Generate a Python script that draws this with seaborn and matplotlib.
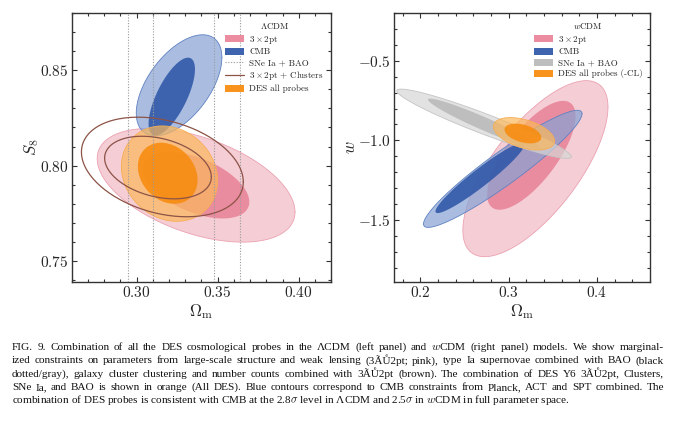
import numpy as np
import pandas as pd
import matplotlib
matplotlib.use("Agg")
import matplotlib.pyplot as plt
from matplotlib.patches import Patch
from matplotlib.lines import Line2D
from matplotlib.ticker import MultipleLocator
import seaborn as sns

# LCDM panel: each contour (95% / 68%) as centre, half-extent and correlation
lcdm_probe = ["3x2pt", "3x2pt", "CMB", "CMB", "Clusters", "Clusters", "DES", "DES"]
lcdm_level = [95, 68, 95, 68, 95, 68, 95, 68]
lcdm_om = [0.3367, 0.3367, 0.3262, 0.3217, 0.3159, 0.3132, 0.3203, 0.3192]
lcdm_s8 = [0.7897, 0.7897, 0.8421, 0.8362, 0.7993, 0.7990, 0.7958, 0.7960]
lcdm_om_err = [0.0610, 0.0328, 0.0264, 0.0143, 0.0499, 0.0329, 0.0297, 0.0184]
lcdm_s8_err = [0.0298, 0.0174, 0.0265, 0.0204, 0.0261, 0.0164, 0.0250, 0.0160]
lcdm_corr = [-0.47, -0.50, 0.55, 0.70, -0.30, -0.30, -0.15, -0.22]
sne_om_bounds = [0.295, 0.310, 0.348, 0.364]

# wCDM panel
wcdm_probe = ["3x2pt", "3x2pt", "CMB", "CMB", "SNe", "SNe", "DES", "DES"]
wcdm_level = [95, 68, 95, 68, 95, 68, 95, 68]
wcdm_om = [0.3302, 0.3256, 0.2932, 0.2675, 0.2720, 0.2720, 0.3173, 0.3160]
wcdm_w = [-1.178, -1.094, -1.179, -1.236, -0.896, -0.896, -0.959, -0.957]
wcdm_om_err = [0.0822, 0.0501, 0.0898, 0.0505, 0.0989, 0.0635, 0.0346, 0.0208]
wcdm_w_err = [0.553, 0.342, 0.368, 0.221, 0.218, 0.158, 0.102, 0.062]
wcdm_corr = [0.70, 0.72, 0.94, 0.95, -0.95, -0.96, -0.45, -0.40]

lcdm_labels = [r"$3\times2$pt", "CMB", "SNe Ia + BAO", r"$3\times2$pt + Clusters", "DES all probes"]
wcdm_labels = [r"$3\times2$pt", "CMB", "SNe Ia + BAO", "DES all probes (-CL)"]

caption_lines = [
    "FIG. 9.  Combination of all the DES cosmological probes in the \u039bCDM (left panel) and $w$CDM (right panel) models.  We show marginal-",
    "ized constraints on parameters from large-scale structure and weak lensing (3\u00c3\u016e2pt; pink), type Ia supernovae combined with BAO (black",
    "dotted/gray), galaxy cluster clustering and number counts combined with 3\u00c3\u016e2pt (brown).  The combination of DES Y6 3\u00c3\u016e2pt, Clusters,",
    "SNe Ia, and BAO is shown in orange (All DES). Blue contours correspond to CMB constraints from Planck, ACT and SPT combined.  The",
    "combination of DES probes is consistent with CMB at the 2.8$\\sigma$ level in \u039bCDM and 2.5$\\sigma$ in $w$CDM in full parameter space.",
]

# colours: (95% fill, 68% fill, edge, legend)
colors = {
    "3x2pt": ("#F2B8C4", "#E98196", "#EBA2B2", "#EB8CA0"),
    "CMB": ("#86A2D4", "#2B54A6", "#5F82C2", "#3E64AF"),
    "SNe": ("#D6D6D6", "#B8B8B8", "#C4C4C4", "#BEBEBE"),
    "DES": ("#FBB85B", "#F78A0B", "#F5AE55", "#F8941E"),
}
brown = "#8C5346"

sns.set_style("ticks")
plt.rcParams["font.family"] = "serif"
plt.rcParams["font.serif"] = ["cmr10"]
plt.rcParams["mathtext.fontset"] = "cm"
plt.rcParams["axes.formatter.use_mathtext"] = True


def contour_xy(cx, cy, sx, sy, rho, n=240):
    t = np.linspace(0, 2 * np.pi, n)
    x = cx + sx * np.cos(t)
    y = cy + sy * (rho * np.cos(t) + np.sqrt(1 - rho ** 2) * np.sin(t))
    return x, y


def draw_probe(ax, df, probe):
    sub = df[df["probe"] == probe]
    for _, r in sub.iterrows():
        x, y = contour_xy(r["x"], r["y"], r["sx"], r["sy"], r["rho"])
        if probe == "Clusters":
            sns.lineplot(x=x, y=y, sort=False, estimator=None, color=brown,
                         lw=0.9, ax=ax, legend=False, zorder=3)
            continue
        outer, inner, edge, _ = colors[probe]
        if r["level"] == 95:
            ax.fill(x, y, color=outer, alpha=0.7, lw=0, zorder=2)
            ax.plot(x, y, color=edge, lw=0.6, zorder=2)
        else:
            ax.fill(x, y, color=inner, alpha=0.85, lw=0, zorder=2)


def style_axes(ax, xminor, yminor):
    for s in ax.spines.values():
        s.set_linewidth(1.0)
        s.set_color("#333333")
    ax.xaxis.set_minor_locator(MultipleLocator(xminor))
    ax.yaxis.set_minor_locator(MultipleLocator(yminor))
    ax.tick_params(which="both", direction="in", top=True, right=True,
                   color="#333333", width=0.8, labelsize=11, pad=2.5)
    ax.tick_params(which="major", length=3.5)
    ax.tick_params(which="minor", length=2)


lcdm = pd.DataFrame({"probe": lcdm_probe, "level": lcdm_level, "x": lcdm_om, "y": lcdm_s8,
                     "sx": lcdm_om_err, "sy": lcdm_s8_err, "rho": lcdm_corr})
wcdm = pd.DataFrame({"probe": wcdm_probe, "level": wcdm_level, "x": wcdm_om, "y": wcdm_w,
                     "sx": wcdm_om_err, "sy": wcdm_w_err, "rho": wcdm_corr})

fig = plt.figure(figsize=(6.8, 4.24), dpi=100)
ax1 = fig.add_axes([71.7 / 680, 1 - 282 / 424, 259.5 / 680, 269 / 424])
ax2 = fig.add_axes([394 / 680, 1 - 282 / 424, 256 / 680, 269 / 424])

legend_kw = dict(loc="upper right", bbox_to_anchor=(0.989, 0.986), frameon=False,
                 fontsize=6.5, title_fontsize=6.5, handlelength=2.1,
                 handleheight=0.8, handletextpad=0.6, labelspacing=0.25,
                 borderpad=0)

# left panel
draw_probe(ax1, lcdm, "3x2pt")
draw_probe(ax1, lcdm, "CMB")
for b in sne_om_bounds:
    ax1.axvline(b, color="#9A9A9A", ls=(0, (1, 1.5)), lw=0.8, zorder=3)
draw_probe(ax1, lcdm, "Clusters")
draw_probe(ax1, lcdm, "DES")

ax1.set_xlim(0.26, 0.42)
ax1.set_ylim(0.739, 0.88)
ax1.xaxis.set_major_locator(MultipleLocator(0.05))
ax1.yaxis.set_major_locator(MultipleLocator(0.05))
style_axes(ax1, 0.01, 0.01)
ax1.set_xlabel(r"$\Omega_{\rm m}$", fontsize=12, labelpad=1)
ax1.set_ylabel(r"$S_8$", fontsize=12, labelpad=-1)

h1 = [Patch(facecolor=colors["3x2pt"][3], lw=0),
      Patch(facecolor=colors["CMB"][3], lw=0),
      Line2D([], [], color="#9A9A9A", ls=(0, (1, 1.5)), lw=0.8),
      Line2D([], [], color=brown, lw=0.9),
      Patch(facecolor=colors["DES"][3], lw=0)]
ax1.legend(h1, lcdm_labels, title=r"$\Lambda$CDM", **legend_kw)

# right panel
draw_probe(ax2, wcdm, "3x2pt")
draw_probe(ax2, wcdm, "CMB")
draw_probe(ax2, wcdm, "SNe")
draw_probe(ax2, wcdm, "DES")

ax2.set_xlim(0.17, 0.46)
ax2.set_ylim(-1.89, -0.2)
ax2.xaxis.set_major_locator(MultipleLocator(0.1))
ax2.yaxis.set_major_locator(MultipleLocator(0.5))
style_axes(ax2, 0.02, 0.1)
ax2.set_xlabel(r"$\Omega_{\rm m}$", fontsize=12, labelpad=1)
ax2.set_ylabel(r"$w$", fontsize=12, labelpad=0)

h2 = [Patch(facecolor=colors["3x2pt"][3], lw=0),
      Patch(facecolor=colors["CMB"][3], lw=0),
      Patch(facecolor=colors["SNe"][3], lw=0),
      Patch(facecolor=colors["DES"][3], lw=0)]
ax2.legend(h2, wcdm_labels, title=r"$w$CDM", **legend_kw)

# caption, justified word by word
cap_font = dict(family=["Liberation Serif", "DejaVu Serif"], fontsize=8.1, color="#111111")
renderer = fig.canvas.get_renderer()
x0, x1 = 12, 664
baselines = [350, 363.3, 376.7, 390, 403.3]
for i, line in enumerate(caption_lines):
    yf = 1 - baselines[i] / 424
    if i == len(caption_lines) - 1:
        fig.text(x0 / 680, yf, line, va="baseline", ha="left", **cap_font)
        continue
    words = line.split()
    texts = [fig.text(0, yf, w, va="baseline", ha="left", **cap_font) for w in words]
    widths = [t.get_window_extent(renderer).width for t in texts]
    gap = (x1 - x0 - sum(widths)) / (len(words) - 1)
    xpos = x0
    for t, wdt in zip(texts, widths):
        t.set_x(xpos / 680)
        xpos += wdt + gap

fig.savefig("out.png", dpi=100)
